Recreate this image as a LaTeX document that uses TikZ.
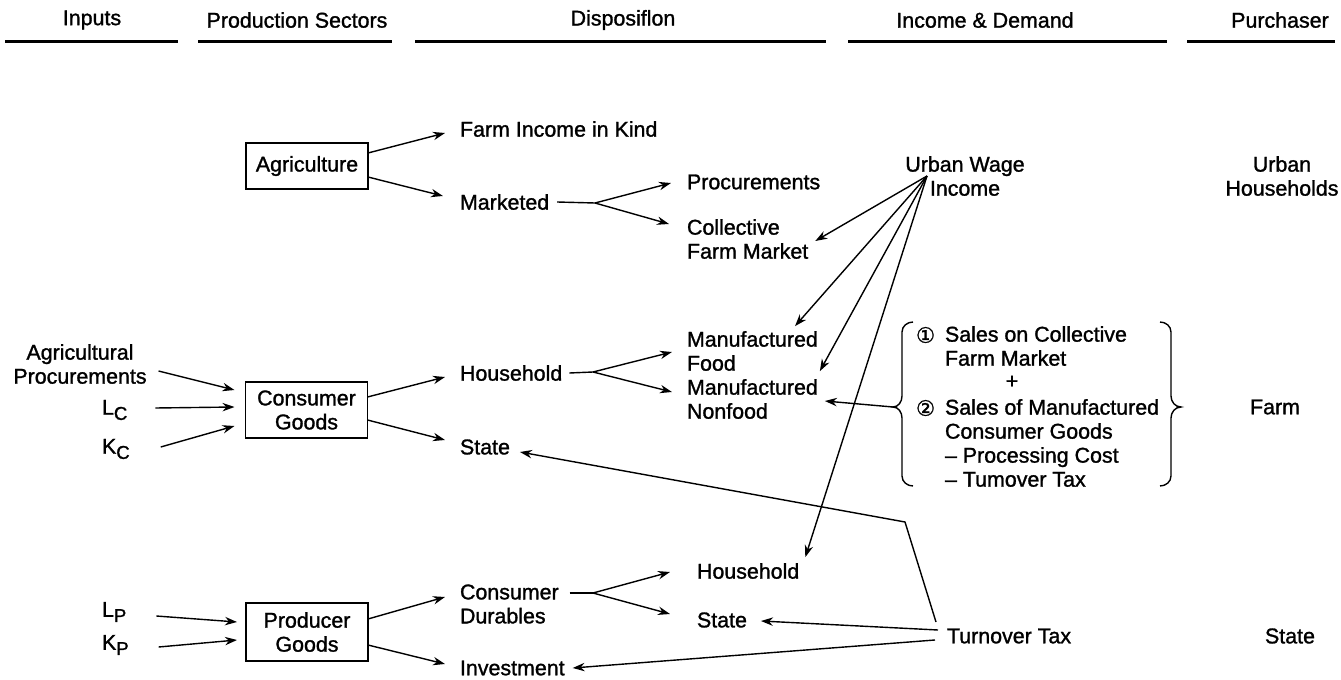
\documentclass[tikz,border=0pt]{standalone}
\usepackage{fontspec}
\setmainfont{Liberation Sans}[FakeBold=1.3]
\newfontfamily\dejavu{DejaVu Sans}[FakeBold=1.0]
\usetikzlibrary{arrows.meta,calc}
\newcommand{\sub}[1]{\raisebox{-2.6pt}{\fontsize{9.3}{10}\selectfont #1}}
\begin{document}
\begin{tikzpicture}[x=0.5pt,y=-0.5pt,
  every node/.style={font=\fontsize{10.7}{12}\selectfont, inner sep=0pt, outer sep=0pt},
  lbl/.style={anchor=west, align=left},
  ctr/.style={align=center},
  sector/.style={draw, line width=0.9pt, align=center, minimum width=61pt},
  arr/.style={line width=0.7pt, -{Stealth[length=6pt,width=4.2pt]}},
  ln/.style={line width=0.7pt},
  hline/.style={line width=1.5pt},
  brace/.style={line width=0.7pt}]
\useasboundingbox (0,0) rectangle (1341,680);

% headers
\node (h1) at (92,20) {Inputs};
\node (h2) at (297,20) {Production Sectors};
\node (h3) at (623,20) {Disposiflon};
\node (h4) at (985,20) {Income \& Demand};
\node (h5) at (1280,20) {Purchaser};
\draw[hline] (5,41) -- (178,41);
\draw[hline] (198,41) -- (392,41);
\draw[hline] (415,41) -- (826,41);
\draw[hline] (848,41) -- (1167,41);
\draw[hline] (1187,41) -- (1335,41);

% sectors
\node[sector, minimum height=23pt] (agri) at (307,166) {Agriculture};
\node[sector, minimum height=28pt] (cons) at (306.5,410) {Consumer\\Goods};
\node[sector, minimum height=29pt] (prod) at (307,632) {Producer\\Goods};

% inputs
\node[ctr] (agp) at (80,364) {Agricultural\\Procurements};
\node[lbl] (lc) at (102,410) {L\sub{C}};
\node[lbl] (kc) at (102,449) {K\sub{C}};
\node[lbl] (lp) at (102,612) {L\sub{P}};
\node[lbl] (kp) at (102,645) {K\sub{P}};

% disposition
\node[lbl] (fiik) at (460,129) {Farm Income in Kind};
\node[lbl] (mkt) at (460,202) {Marketed};
\node[lbl] (proc) at (687,182) {Procurements};
\node[lbl] (cfm) at (687,239) {Collective\\Farm Market};
\node[lbl] (hh1) at (460,373) {Household};
\node[lbl] (st1) at (460,447) {State};
\node[lbl] (mf) at (687,351) {Manufactured\\Food};
\node[lbl] (mn) at (687,399) {Manufactured\\Nonfood};
\node[lbl] (cd) at (460,604) {Consumer\\Durables};
\node[lbl] (inv) at (460,668) {Investment};
\node[lbl] (hh2) at (697,571) {Household};
\node[lbl] (st2) at (697,620) {State};

% income & demand
\node[ctr] (uwi) at (965,176) {Urban Wage\\Income};
\node[lbl] (tt) at (947,636) {Turnover Tax};
\node[lbl] (c1) at (916,335) {\dejavu ①};
\node[lbl] (s1) at (945,346) {Sales on Collective\\Farm Market};
\node (plus) at (1012,382) {+};
\node[lbl] (c2) at (916,408) {\dejavu ②};
\node[lbl] (s2) at (945,443) {Sales of Manufactured\\Consumer Goods\\-- Processing Cost\\-- Tumover Tax};
\coordinate (lb) at (893,407);
\coordinate (rb) at (1181,407);
\draw[brace] (913,322) to[out=180,in=90] (902,332) -- (902,396) to[out=270,in=0] (lb)
  to[out=0,in=90] (902,418) -- (902,476) to[out=270,in=180] (913,486);
\draw[brace] (1160,322) to[out=0,in=90] (1171,332) -- (1171,396) to[out=270,in=180] (rb)
  to[out=180,in=90] (1171,418) -- (1171,476) to[out=270,in=0] (1160,486);

% purchasers
\node[ctr] (uh) at (1282,176) {Urban\\Households};
\node (farm) at (1275,407) {Farm};
\node (stp) at (1290,636) {State};

% split points
\coordinate (sp1) at (595,203);
\coordinate (sp2) at (593,372);
\coordinate (sp3) at (593,593);
\coordinate (uws) at ($(uwi.center)+(-38,0)$);
\coordinate (bend) at (905,522);

% connectors: agriculture
\draw[arr] ($(agri.east)+(0,-13)$) -- ($(fiik.west)+(-15,4)$);
\draw[arr] ($(agri.east)+(0,11)$) -- ($(mkt.west)+(-17,-6)$);
\draw[ln] ($(mkt.east)+(8,0)$) -- (sp1);
\draw[arr] (sp1) -- ($(proc.west)+(-16,1)$);
\draw[arr] (sp1) -- ($(cfm.west)+(-18,-15)$);

% urban wage income
\draw[arr] (uws) -- ($(cfm.east)+(7,2)$);
\draw[arr] (uws) -- ($(mf.north west)+(108,-5)$);
\draw[arr] (uws) -- ($(mn.north east)+(2,-8)$);
\draw[arr] (uws) -- ($(hh2.north east)+(6,-6)$);

% consumer goods
\draw[arr] ($(agp.east)+(12,7)$) -- ($(cons.west)+(-11,-20)$);
\draw[arr] ($(lc.east)+(28,-2)$) -- ($(cons.west)+(-11,-3)$);
\draw[arr] ($(kc.east)+(31,-2)$) -- ($(cons.west)+(-11,16)$);
\draw[arr] ($(cons.east)+(0,-13)$) -- ($(hh1.west)+(-15,4)$);
\draw[arr] ($(cons.east)+(0,10)$) -- ($(st1.west)+(-15,-7)$);
\draw[ln] ($(hh1.east)+(7,0)$) -- (sp2);
\draw[arr] (sp2) -- ($(mf.west)+(-15,1)$);
\draw[arr] (sp2) -- ($(mn.west)+(-15,-7)$);
\draw[arr] (lb) -- ($(mn.east)+(7,2)$);

% producer goods
\draw[arr] ($(lp.east)+(30,4)$) -- ($(prod.west)+(-9,-10)$);
\draw[arr] ($(kp.east)+(30,2)$) -- ($(prod.west)+(-9,8)$);
\draw[arr] ($(prod.east)+(0,-13)$) -- ($(cd.west)+(-15,-7)$);
\draw[arr] ($(prod.east)+(0,13)$) -- ($(inv.west)+(-15,-4)$);
\draw[ln] ($(cd.east)+(11,-11)$) -- (sp3);
\draw[arr] (sp3) -- ($(hh2.west)+(-27,1)$);
\draw[arr] (sp3) -- ($(st2.west)+(-27,-6)$);

% turnover tax
\draw[arr] ($(tt.west)+(-11,-14)$) -- (bend) -- ($(st1.east)+(10,5)$);
\draw[arr] ($(tt.west)+(-9,-6)$) -- ($(st2.east)+(14,1)$);
\draw[arr] ($(tt.west)+(-12,4)$) -- ($(inv.east)+(8,0)$);
\end{tikzpicture}
\end{document}
